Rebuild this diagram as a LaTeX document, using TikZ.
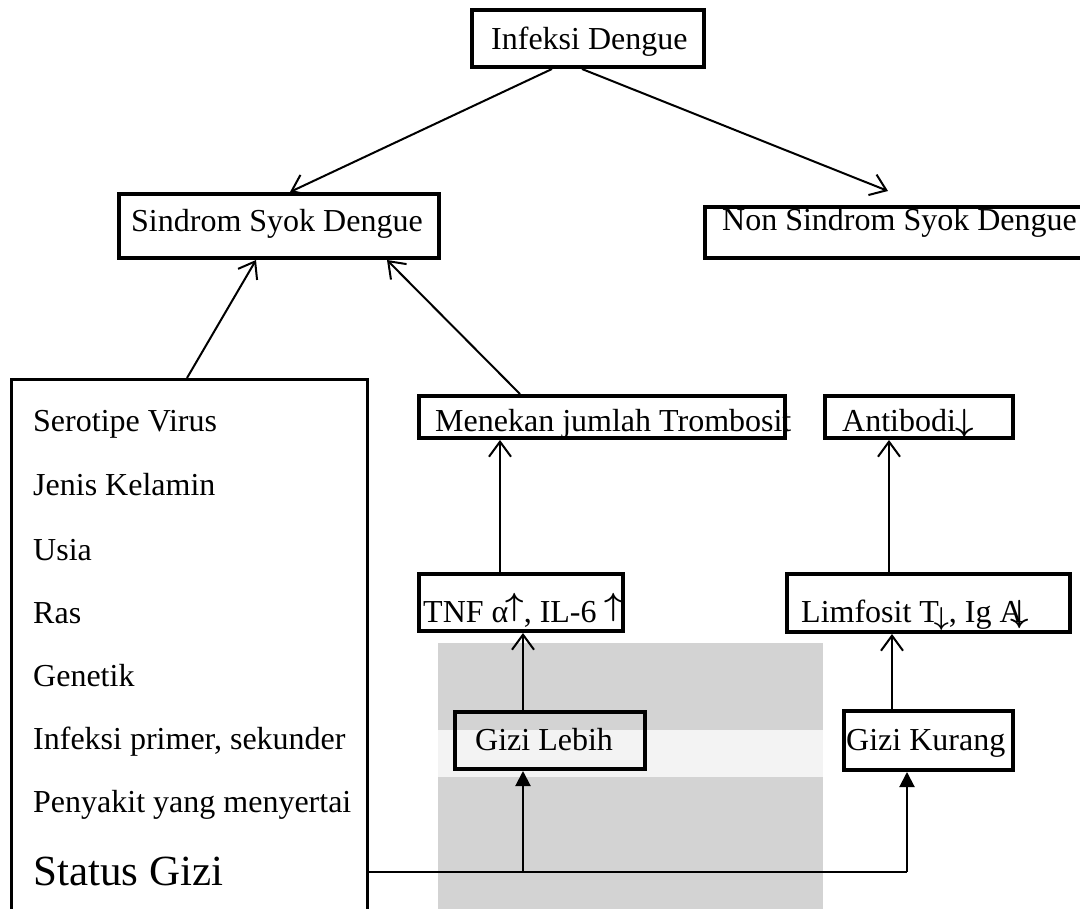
\RequirePackage{fix-cm}
\documentclass[tikz,border=0pt]{standalone}
\usepackage{fontspec}
\setmainfont{Liberation Serif}
\usetikzlibrary{arrows.meta,calc}
\definecolor{wm}{RGB}{211,211,211}
\definecolor{wml}{RGB}{243,243,243}
\newcommand{\upar}{{\boldmath$\uparrow$}}
\newcommand{\dnar}{{\boldmath$\downarrow$}}
\tikzset{
 bx/.style={draw=black, line width=4pt, inner sep=0pt, rectangle},
 fbx/.style={draw=black, line width=3pt, inner sep=0pt, rectangle},
 txt/.style={anchor=base west, inner sep=0pt, font=\fontsize{32}{38}\selectfont},
 arr/.style={line width=2pt, -{Straight Barb[length=15pt,width=22pt,line width=2pt]}},
 farr/.style={line width=2pt, -{Triangle[length=15pt,width=15pt]}},
 conn/.style={line width=2pt},
}
\begin{document}
\begin{tikzpicture}[x=1pt,y=-1pt]
\useasboundingbox (0,0) rectangle (1080,909);
\clip (0,0) rectangle (1080,909);
\fill[white] (0,0) rectangle (1080,909);
% watermark bands
\fill[wm] (438,643) rectangle (823,730);
\fill[wml] (438,730) rectangle (823,777);
\fill[wm] (438,777) rectangle (823,909);
% boxes
\node[bx, minimum width=232pt, minimum height=57pt] (inf) at (588,38.5) {};
\node[bx, minimum width=320pt, minimum height=64pt] (sin) at (279,226) {};
\node[bx, minimum width=379pt, minimum height=51pt] (non) at (894.5,232.5) {};
\node[fbx, minimum width=356pt, minimum height=545pt] (fac) at (189.5,652) {};
\node[bx, minimum width=366pt, minimum height=42pt] (men) at (602,417) {};
\node[bx, minimum width=188pt, minimum height=42pt] (ant) at (919,417) {};
\node[bx, minimum width=204pt, minimum height=57pt] (tnf) at (521,602.5) {};
\node[bx, minimum width=283pt, minimum height=58pt] (lim) at (928.5,603) {};
\node[bx, minimum width=190pt, minimum height=57pt] (leb) at (550,740.5) {};
\node[bx, minimum width=169pt, minimum height=59pt] (kur) at (928.5,740.5) {};
% texts
\node[txt] (tinf) at (491,50) {Infeksi Dengue};
\node[txt] (tsin) at (131,232) {Sindrom Syok Dengue};
\node[txt] (tnon) at (722,231) {Non Sindrom Syok Dengue};
\node[txt] (tmen) at (435,432) {Menekan jumlah Trombosit};
\node[txt] (tant) at (842,432) {Antibodi\dnar};
\node[txt] (ttnf) at (423,622) {TNF α\kern-3pt\raisebox{0.19em}{\upar}, IL-6 \raisebox{0.19em}{\upar}};
\node[txt] (tlim) at (801,622) {Limfosit T\kern-5pt\raisebox{-0.12em}{\fontsize{26}{26}\selectfont\dnar}, Ig A\kern-12pt\dnar};
\node[txt] (tleb) at (475,750) {Gizi Lebih};
\node[txt] (tkur) at (846,750) {Gizi Kurang};
\node[txt] (f1) at (33,432) {Serotipe Virus};
\node[txt] (f2) at (33,495) {Jenis Kelamin};
\node[txt] (f3) at (33,560) {Usia};
\node[txt] (f4) at (33,623) {Ras};
\node[txt] (f5) at (33,686) {Genetik};
\node[txt] (f6) at (33,749) {Infeksi primer, sekunder};
\node[txt] (f7) at (33,812) {Penyakit yang menyertai};
\node[txt, font=\fontsize{43}{50}\selectfont] (f8) at (33,885) {Status Gizi};
% connectors
\draw[arr] ([xshift=-36pt]inf.south) -- ([xshift=11pt]sin.north);
\draw[arr] ([xshift=-6pt]inf.south) -- ([xshift=-6.5pt,yshift=14pt]non.north);
\draw[arr] ([xshift=-2.5pt]fac.north) -- ([xshift=-23pt]sin.south);
\draw[arr] ([xshift=-82pt]men.north) -- ([xshift=108pt]sin.south);
\coordinate (a1) at ([xshift=-21pt]tnf.north);
\draw[arr] (a1) -- (a1 |- men.south);
\coordinate (j1) at (523,872);
\coordinate (j2) at (907,872);
\coordinate (a2) at (j1 |- leb.north);
\draw[arr] (a2) -- (a2 |- tnf.south);
\coordinate (a3) at ([xshift=-36.5pt]kur.north);
\draw[arr] (a3) -- (a3 |- lim.south);
\coordinate (a4) at ([xshift=-39.5pt]lim.north);
\draw[arr] (a4) -- (a4 |- ant.south);
\draw[conn] (fac.east |- j1) -- (j2);
\draw[farr] (j1) -- (j1 |- leb.south);
\draw[farr] (j2) -- (j2 |- kur.south);
\end{tikzpicture}
\end{document}
